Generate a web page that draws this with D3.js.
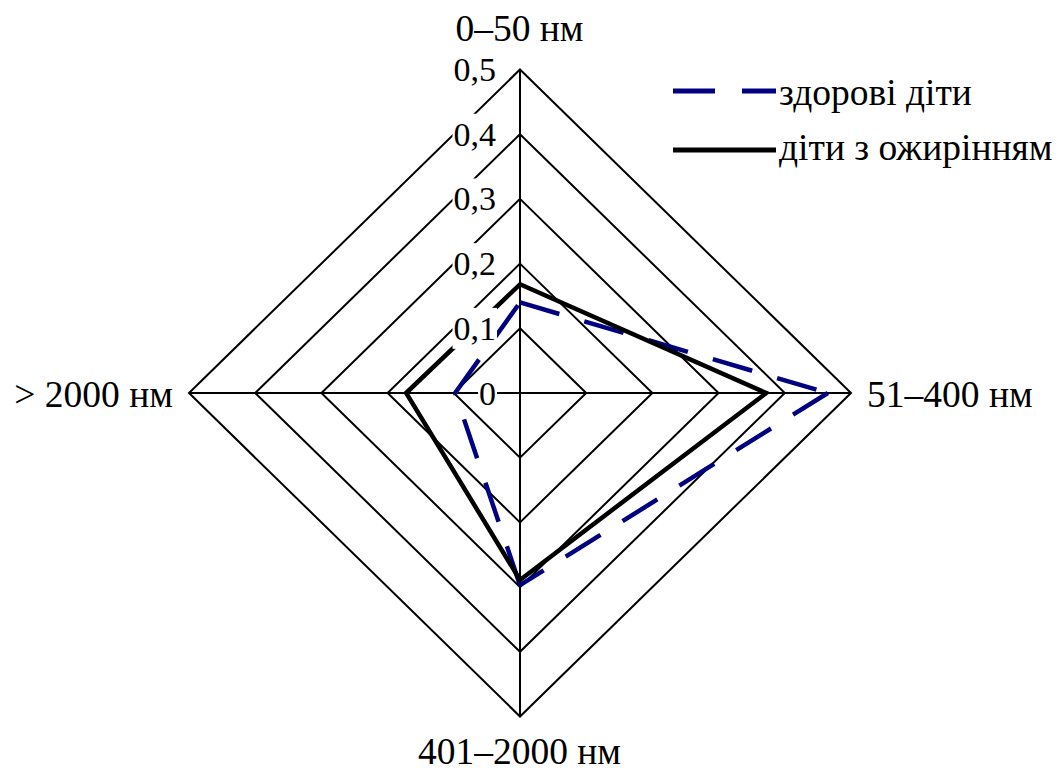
<!DOCTYPE html>
<html>
<head>
<meta charset="utf-8">
<script src="https://cdn.jsdelivr.net/npm/d3@7"></script>
<style>
  body { margin: 0; background: #fff; }
  svg text { font-family: "Liberation Serif", "Times New Roman", serif; fill: #000; }
</style>
</head>
<body>
<div id="chart"></div>
<script>
// chart data
var categories = ["0–50 нм", "51–400 нм", "401–2000 нм", "> 2000 нм"];
var healthyValues = [0.14, 0.465, 0.297, 0.098];
var obeseValues = [0.168, 0.372, 0.289, 0.172];
var tickValues = [0, 0.1, 0.2, 0.3, 0.4, 0.5];
var tickLabels = ["0", "0,1", "0,2", "0,3", "0,4", "0,5"];
var seriesNames = ["здорові діти", "діти з ожирінням"];

// svg area
var svgWidth = 1062;
var svgHeight = 773;
var cx = 520, cy = 393;

var svg = d3.select("#chart")
  .append("svg")
  .attr("width", svgWidth)
  .attr("height", svgHeight);

// radial scales (slightly wider horizontally than vertically)
var rx = d3.scaleLinear().domain([0, 0.5]).range([0, 331]);
var ry = d3.scaleLinear().domain([0, 0.5]).range([0, 323.5]);

var angle = d3.scalePoint().domain(d3.range(categories.length)).range([0, 2 * Math.PI * 3 / 4]);

function px(i, v) { return cx + Math.sin(angle(i)) * rx(v); }
function py(i, v) { return cy - Math.cos(angle(i)) * ry(v); }

var line = d3.line()
  .x(d => px(d.i, d.v))
  .y(d => py(d.i, d.v));

var closedLine = d3.line()
  .x(d => px(d.i, d.v))
  .y(d => py(d.i, d.v))
  .curve(d3.curveLinearClosed);

// grid rings
var gridGroup = svg.append("g");
gridGroup.selectAll(".ring")
  .data(tickValues.filter(t => t > 0))
  .enter()
  .append("path")
  .attr("d", t => closedLine(categories.map((c, i) => ({ i: i, v: t }))))
  .attr("fill", "none")
  .attr("stroke", "#000")
  .attr("stroke-width", 2);

// spokes
gridGroup.selectAll(".spoke")
  .data(categories)
  .enter()
  .append("line")
  .attr("x1", cx)
  .attr("y1", cy)
  .attr("x2", (c, i) => px(i, 0.5))
  .attr("y2", (c, i) => py(i, 0.5))
  .attr("stroke", "#000")
  .attr("stroke-width", 2);

// series: drawn segment by segment so the dash pattern restarts at each vertex
var series = [
  { name: seriesNames[0], values: healthyValues, color: "#000080", dash: "41,26" },
  { name: seriesNames[1], values: obeseValues, color: "#000", dash: null }
];

series.forEach(s => {
  var n = s.values.length;
  var segs = s.values.map((v, i) => [
    { i: i, v: v },
    { i: (i + 1) % n, v: s.values[(i + 1) % n] }
  ]);
  if (!s.dash) {
    svg.append("path")
      .attr("d", closedLine(s.values.map((v, i) => ({ i: i, v: v }))))
      .attr("fill", "none")
      .attr("stroke", s.color)
      .attr("stroke-width", 4.5)
      .attr("stroke-linejoin", "miter");
  } else {
    svg.append("g").selectAll("path")
      .data(segs)
      .enter()
      .append("path")
      .attr("d", d => line(d))
      .attr("fill", "none")
      .attr("stroke", s.color)
      .attr("stroke-width", 4.5)
      .attr("stroke-dasharray", s.dash);
  }
});

// tick labels with white background
var tickGroup = svg.append("g");
tickValues.forEach((t, k) => {
  var g = tickGroup.append("g");
  var txt = g.append("text")
    .attr("x", 496)
    .attr("y", py(0, t))
    .attr("dy", "0.34em")
    .attr("text-anchor", "end")
    .attr("font-size", 34)
    .text(tickLabels[k]);
  var bb = txt.node().getBBox();
  g.insert("rect", "text")
    .attr("x", bb.x - 1)
    .attr("y", bb.y - 2)
    .attr("width", bb.width + 2)
    .attr("height", bb.height + 4)
    .attr("fill", "#fff");
});

// category labels
var labelPos = [
  { x: 519.5, y: 41, anchor: "middle" },
  { x: 867, y: 407, anchor: "start" },
  { x: 519.5, y: 764, anchor: "middle" },
  { x: 173, y: 407, anchor: "end" }
];
svg.selectAll(".cat")
  .data(categories)
  .enter()
  .append("text")
  .attr("x", (c, i) => labelPos[i].x)
  .attr("y", (c, i) => labelPos[i].y)
  .attr("text-anchor", (c, i) => labelPos[i].anchor)
  .attr("font-size", 37.5)
  .text(c => c);

// legend
var legend = svg.append("g");
var legendLineY = [91, 150];
var legendTextY = [105, 160];
series.forEach((s, k) => {
  legend.append("line")
    .attr("x1", 673)
    .attr("x2", 776)
    .attr("y1", legendLineY[k])
    .attr("y2", legendLineY[k])
    .attr("stroke", s.color)
    .attr("stroke-width", 5)
    .attr("stroke-dasharray", s.dash ? "42,27" : null);
  legend.append("text")
    .attr("x", 779)
    .attr("y", legendTextY[k])
    .attr("font-size", 37.5)
    .text(s.name);
});
</script>
</body>
</html>
